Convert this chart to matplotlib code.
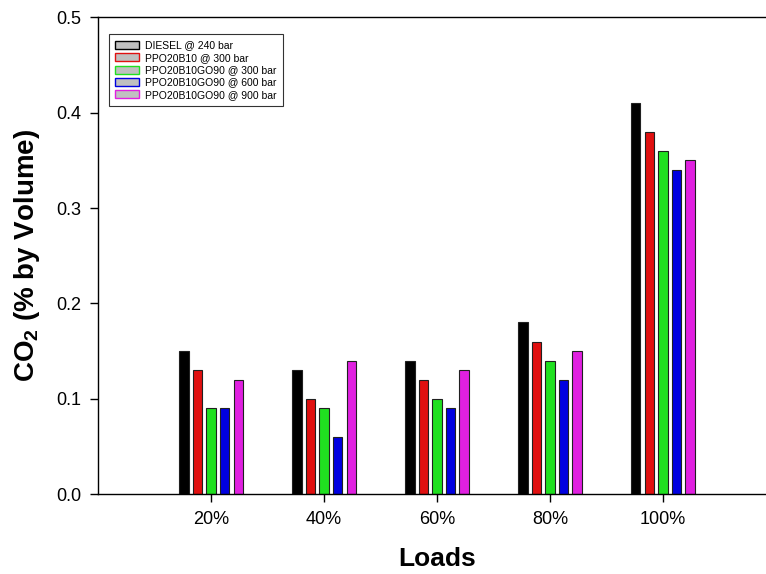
import numpy as np
import matplotlib.pyplot as plt
from matplotlib.patches import Patch

plt.rcParams['font.family'] = ['Liberation Sans', 'DejaVu Sans']
plt.rcParams['mathtext.fontset'] = 'custom'
plt.rcParams['mathtext.rm'] = 'Liberation Sans'
plt.rcParams['mathtext.bf'] = 'Liberation Sans:bold'

loads = ['20%', '40%', '60%', '80%', '100%']
series = ['DIESEL @ 240 bar', 'PPO20B10 @ 300 bar', 'PPO20B10GO90 @ 300 bar',
          'PPO20B10GO90 @ 600 bar', 'PPO20B10GO90 @ 900 bar']
diesel = [0.15, 0.13, 0.14, 0.18, 0.41]
ppo_300 = [0.13, 0.10, 0.12, 0.16, 0.38]
go_300 = [0.09, 0.09, 0.10, 0.14, 0.36]
go_600 = [0.09, 0.06, 0.09, 0.12, 0.34]
go_900 = [0.12, 0.14, 0.13, 0.15, 0.35]
colors = ['#000000', '#e01010', '#20e020', '#0000e0', '#e020e0']

fig = plt.figure(figsize=(7.66, 5.74), dpi=100)
ax = fig.add_axes([0.128, 0.139, 0.885, 0.831])

x = np.arange(1, len(loads) + 1)
step = 0.12
width = 0.082
for i, (vals, c) in enumerate(zip([diesel, ppo_300, go_300, go_600, go_900], colors)):
    ax.bar(x + (i - 2) * step, vals, width, color=c, edgecolor='#202020', linewidth=0.8)

ax.set_xlim(0, 6)
ax.set_ylim(0, 0.5)
ax.set_xticks(x)
ax.set_xticklabels(loads, fontsize=13)
ax.set_yticks([0.0, 0.1, 0.2, 0.3, 0.4, 0.5])
ax.set_yticklabels(['0.0', '0.1', '0.2', '0.3', '0.4', '0.5'], fontsize=13)
ax.tick_params(direction='out', length=6, width=1, pad=6)
ax.spines['right'].set_visible(False)
for s in ['left', 'top', 'bottom']:
    ax.spines[s].set_linewidth(1.0)

ax.set_xlabel('Loads', fontsize=19, fontweight='bold', labelpad=14)
ax.set_ylabel('CO$_\\mathbf{2}$ (% by Volume)', fontsize=20, fontweight='bold', labelpad=10)

handles = [Patch(facecolor='#c0c0c0', edgecolor=c, linewidth=1.0, label=s)
           for c, s in zip(colors, series)]
leg = ax.legend(handles=handles, loc='upper left', bbox_to_anchor=(0.008, 0.975),
                fontsize=7.5, frameon=True, fancybox=False, edgecolor='black',
                handlelength=2.3, handleheight=0.8, labelspacing=0.22,
                borderpad=0.6, handletextpad=0.6)
leg.get_frame().set_linewidth(0.8)

fig.savefig('out.png', dpi=100)
